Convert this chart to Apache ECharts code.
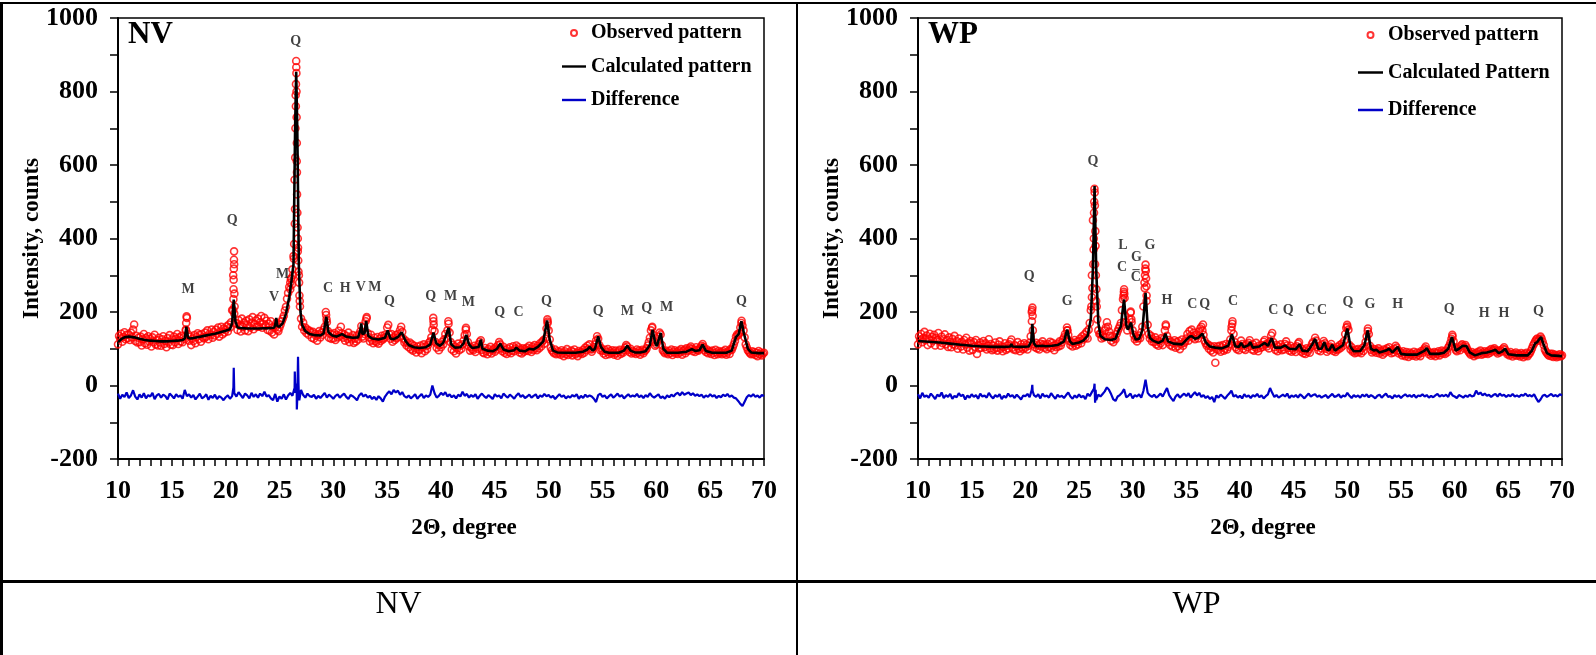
<!DOCTYPE html>
<html>
<head>
<meta charset="utf-8">
<script src="https://cdn.jsdelivr.net/npm/echarts@6/dist/echarts.min.js"></script>
<style>
  html, body { margin: 0; padding: 0; background: #fff; }
  #page { position: relative; width: 1596px; height: 655px; overflow: hidden;
          font-family: 'Liberation Serif', 'Times New Roman', serif; }
  .chart { position: absolute; top: 0; height: 580px; }
  #nv { left: 0; width: 797px; }
  #wp { left: 797px; width: 799px; }
  .rule { position: absolute; background: #000; }
  .caption { position: absolute; top: 582px; height: 40px; line-height: 40px;
             font-size: 32px; text-align: center; color: #000; }
</style>
</head>
<body>
<div id="page">
  <div id="nv" class="chart"></div>
  <div id="wp" class="chart"></div>
  <div class="rule" style="left:0;top:2px;width:1596px;height:2px"></div>
  <div class="rule" style="left:0;top:2px;width:3px;height:653px"></div>
  <div class="rule" style="left:796px;top:2px;width:2px;height:653px"></div>
  <div class="rule" style="left:0;top:580px;width:1596px;height:3px"></div>
  <div class="caption" style="left:0;width:797px">NV</div>
  <div class="caption" style="left:797px;width:799px">WP</div>
</div>
<script>
// ---------- NV sample ----------
// Calculated profile: [2θ, counts] knots
const nvCalc = [
  [10.0,118],[10.3,126],[10.6,131],[11.0,133],[11.5,131],[12.0,127],[12.5,124],[13.0,122],[13.5,121],[14.0,120],
  [14.5,120],[15.0,121],[15.5,122],[16.0,124],[16.2,128],[16.35,160],[16.5,130],[16.7,128],[17.0,129],[17.5,132],
  [18.0,135],[18.5,138],[19.0,141],[19.5,145],[20.0,149],[20.4,153],[20.6,170],[20.75,234],[20.9,175],[21.1,158],
  [21.5,156],[22.0,155],[23.0,155],[24.0,156],[24.5,157],[24.6,165],[24.7,184],[24.8,162],[25.0,160],[25.3,170],
  [25.6,195],[25.9,240],[26.1,282],[26.3,330],[26.45,700],[26.55,854],[26.65,700],[26.8,320],[26.95,200],[27.1,165],
  [27.4,148],[27.8,140],[28.3,137],[28.8,136],[29.1,142],[29.35,187],[29.55,145],[29.9,136],[30.3,133],[30.8,140],
  [31.2,133],[31.8,130],[32.3,131],[32.5,150],[32.6,169],[32.7,140],[32.9,142],[33.05,176],[33.25,135],[33.6,128],
  [34.2,125],[34.8,130],[35.05,150],[35.3,128],[35.6,126],[36.0,132],[36.35,145],[36.7,122],[37.0,110],[37.5,104],
  [38.0,102],[38.6,104],[39.0,112],[39.3,144],[39.55,115],[39.9,108],[40.2,116],[40.45,135],[40.7,157],[40.95,112],
  [41.3,103],[41.8,104],[42.1,115],[42.35,138],[42.6,112],[42.9,102],[43.5,105],[43.7,125],[43.85,100],[44.3,95],
  [44.8,93],[45.2,100],[45.5,114],[45.8,98],[46.3,93],[46.8,96],[47.0,103],[47.3,95],[47.8,93],[48.2,100],
  [48.6,98],[49.0,105],[49.5,120],[49.85,177],[50.1,125],[50.4,95],[50.8,90],[51.5,89],[52.5,89],[53.2,92],
  [53.6,98],[53.8,105],[54.1,95],[54.3,100],[54.6,134],[54.85,105],[55.2,92],[55.6,89],[56.5,89],[57.0,95],
  [57.3,108],[57.6,95],[58.0,90],[58.5,90],[59.0,93],[59.4,110],[59.65,152],[59.9,115],[60.05,107],[60.4,143],
  [60.65,100],[61.0,89],[62.0,89],[62.8,92],[63.3,99],[63.6,94],[64.0,96],[64.3,111],[64.6,94],[65.2,89],
  [66.5,89],[67.0,95],[67.4,132],[67.65,140],[67.9,175],[68.15,140],[68.5,100],[68.8,90],[69.5,88],[70.0,88]
];
// Observed counts, one row per degree, 0.1° steps from the row's start
const nvObsRows = [
  [112,135,128,141,119,132,145,126,138,129],
  [139,124,144,131,152,166,121,135,117,130],
  [118,133,109,126,140,115,129,111,134,120],
  [127,106,131,118,138,112,124,109,130,117],
  [108,126,134,113,121,104,129,117,137,111],
  [125,110,133,118,127,140,113,131,120,135],
  [118,131,126,152,184,140,122,133,110,127],
  [121,137,115,132,142,126,138,119,140,131],
  [128,144,133,150,126,141,137,152,130,146],
  [136,152,141,158,133,147,160,139,155,144],
  [152,161,147,166,158,172,205,300,196,169],
  [170,151,178,163,147,182,159,171,150,176],
  [165,148,180,158,171,186,153,167,177,160],
  [182,160,172,189,157,168,184,163,176,151],
  [168,149,175,144,160,139,158,170,152,148],
  [158,166,175,182,190,204,214,236,252,268],
  [280,292,316,352,560,790,610,365,300,215],
  [182,160,171,150,158,143,152,138,149,145],
  [130,146,127,141,135,122,139,148,131,144],
  [138,152,160,200,172,148,130,141,127,139],
  [128,143,124,137,131,149,135,160,142,130],
  [139,122,135,127,144,118,131,125,137,116],
  [128,120,136,125,139,147,162,133,128,140],
  [175,186,142,131,120,138,124,115,130,121],
  [118,132,114,127,121,135,125,129,138,133],
  [158,165,139,127,140,119,131,124,137,129],
  [140,133,151,160,146,128,117,122,109,115],
  [104,117,99,112,95,108,101,90,106,98],
  [96,109,88,104,112,93,107,99,110,117],
  [120,131,152,175,148,118,103,112,96,110],
  [104,119,112,126,140,128,150,168,144,118],
  [98,111,93,106,87,101,114,96,108,100],
  [112,122,137,152,140,118,106,95,104,99],
  [96,108,91,104,100,112,119,123,97,90],
  [88,102,94,85,99,91,105,87,96,100],
  [92,104,98,110,118,112,101,93,105,89],
  [97,86,100,92,104,88,95,107,93,101],
  [109,98,104,90,97,87,101,92,99,95],
  [103,94,108,99,91,105,97,110,102,96],
  [108,101,115,106,119,123,114,128,155,174],
  [150,125,103,96,92,88,98,85,93,87],
  [92,84,96,88,80,93,86,99,83,90],
  [87,95,82,91,98,85,89,80,94,88],
  [91,86,97,89,103,96,108,100,112,98],
  [92,99,104,112,122,134,127,110,96,101],
  [94,87,97,83,91,99,85,93,88,96],
  [90,84,95,88,81,93,97,86,92,89],
  [96,103,110,106,97,91,100,87,94,89],
  [92,86,98,89,95,84,91,97,88,94],
  [96,101,109,118,130,150,157,138,119,108],
  [112,120,133,144,139,110,96,92,88,95],
  [90,85,94,88,98,83,91,96,87,92],
  [86,95,90,99,84,93,97,88,101,94],
  [96,102,106,100,93,98,91,104,97,95],
  [99,103,108,113,105,96,91,98,88,94],
  [92,86,95,89,83,97,90,85,94,88],
  [91,85,93,88,97,84,90,94,86,99],
  [97,104,112,121,133,139,137,142,158,170],
  [163,150,131,112,104,96,92,88,85,93],
  [86,91,83,89,80,94,85,90,82,87],
  [89]
];
// Extra observed counts across the sharp reflections
const nvObsPeaks = [
  [16.31,150],[16.33,170],[16.37,188],
  [20.69,205],[20.72,235],[20.73,262],[20.74,288],[20.76,318],[20.77,342],[20.78,365],[20.79,330],[20.81,250],[20.83,215],
  [26.0,262],[26.05,290],[26.15,275],[26.25,300],[26.33,345],[26.36,385],[26.42,440],[26.44,480],[26.46,620],[26.48,700],
  [26.52,760],[26.53,820],[26.55,883],[26.56,866],[26.57,850],[26.58,800],[26.59,730],[26.61,660],[26.62,580],[26.63,520],
  [26.66,470],[26.68,430],[26.7,400],[26.72,375],[26.74,340],[26.76,310],[26.82,280],[26.85,245],[26.88,230],
  [29.33,192],[29.37,180],[33.08,182],[39.28,184],[39.32,165],[40.68,175],[42.32,157],[49.88,180],[49.9,170],
  [59.62,160],[67.92,176]
];
// Difference (observed − calculated, offset), one row per degree, 0.2° steps
const nvDiffRows = [
  [-22,-36,-25,-31,-19],[-34,-27,-13,-30,-38],[-24,-33,-21,-35,-26],[-30,-20,-37,-27,-23],[-33,-25,-29,-38,-22],
  [-28,-35,-24,-31,-27],[-36,-12,-29,-24,-33],[-26,-38,-30,-22,-35],[-31,-24,-39,-28,-34],[-25,-37,-29,-33,-40],
  [-32,-27,-36,-29,-21],[-30,-18,-26,-34,-22],[-27,-35,-20,-31,-24],[-33,-22,-29,-17,-30],[-26,-35,-40,-23,-44],
  [-30,-36,-24,-38,-27],[-20,-28,-15,-22,-30],[-12,-26,-33,-22,-29],[-31,-25,-36,-28,-34],[-27,-20,-33,-25,-30],
  [-36,-28,-24,-33,-27],[-22,-31,-37,-26,-29],[-34,-40,-27,-21,-30],[-25,-33,-28,-37,-31],[-39,-29,-35,-44,-30],
  [-22,-16,-24,-12,-19],[-14,-25,-18,-29,-33],[-27,-35,-30,-24,-36],[-29,-23,-34,-27,-31],[-25,0,-21,-33,-28],
  [-20,-26,-18,-30,-24],[-32,-27,-35,-25,-30],[-17,-28,-23,-33,-26],[-31,-24,-36,-28,-22],[-29,-34,-26,-31,-37],
  [-24,-30,-27,-35,-22],[-28,-33,-25,-30,-36],[-27,-21,-31,-26,-34],[-30,-25,-33,-28,-24],[-35,-27,-31,-23,-29],
  [-26,-33,-28,-37,-30],[-24,-31,-27,-35,-29],[-33,-26,-30,-24,-36],[-28,-34,-25,-31,-27],[-30,-36,-45,-26,-22],
  [-31,-27,-35,-29,-24],[-33,-28,-22,-30,-26],[-35,-29,-24,-31,-27],[-30,-23,-32,-27,-34],[-26,-31,-21,-29,-33],
  [-28,-24,-34,-30,-36],[-27,-32,-25,-30,-23],[-20,-27,-18,-25,-22],[-19,-26,-21,-28,-24],[-29,-25,-33,-27,-31],
  [-24,-30,-26,-34,-28],[-32,-25,-29,-23,-31],[-27,-33,-35,-42,-50],[-56,-44,-32,-26,-30],[-24,-31,-27,-33,-26],
  [-29]
];
const nvDiffPeaks = [
  [20.72,-5],[20.75,48],[20.78,8],
  [26.38,-8],[26.42,38],[26.47,-20],[26.52,5],[26.61,-65],[26.66,-30],[26.72,78],[26.77,0],[26.84,-40]
];
// Phase marks: [2θ, counts, phase]
const nvPhaseLabels = [
  [16.5,261,'M'],[20.6,448,'Q'],[24.5,239,'V'],[25.3,302,'M'],[26.5,937,'Q'],
  [29.5,264,'C'],[31.1,264,'H'],[32.55,266,'V'],[33.85,266,'M'],[35.2,228,'Q'],
  [39.05,242,'Q'],[40.9,242,'M'],[42.55,226,'M'],[45.45,198,'Q'],[47.2,198,'C'],
  [49.8,228,'Q'],[54.6,201,'Q'],[57.3,201,'M'],[59.1,209,'Q'],[60.95,212,'M'],[67.9,228,'Q']
];

// ---------- WP sample ----------
const wpCalc = [
  [10.0,121],[11.0,119],[12.0,117],[13.0,114],[14.0,111],[15.0,108],[15.9,106],[16.05,110],[16.2,106],[17.0,105],
  [18.0,105],[18.6,106],[18.7,113],[18.8,106],[19.5,105],[20.3,106],[20.55,120],[20.65,168],[20.8,115],[21.0,107],
  [21.6,108],[21.75,113],[21.9,107],[22.5,108],[23.0,110],[23.6,120],[23.9,152],[24.15,120],[24.4,113],[25.0,117],
  [25.4,122],[25.8,135],[26.1,180],[26.3,320],[26.45,543],[26.6,320],[26.8,170],[27.0,135],[27.4,126],[28.0,124],
  [28.4,127],[28.7,150],[28.9,160],[29.05,200],[29.2,234],[29.4,165],[29.55,152],[29.7,162],[29.85,171],[30.05,140],
  [30.3,125],[30.6,127],[30.9,150],[31.05,200],[31.2,252],[31.4,160],[31.6,130],[31.9,122],[32.4,116],[32.8,122],
  [33.05,141],[33.3,120],[33.8,114],[34.6,112],[35.0,124],[35.3,133],[35.5,134],[35.8,127],[36.1,130],[36.5,141],
  [36.8,118],[37.2,106],[37.7,103],[38.3,101],[38.9,108],[39.25,139],[39.55,107],[39.9,105],[40.1,116],[40.35,104],
  [40.8,110],[40.95,118],[41.2,103],[41.8,106],[42.3,116],[42.6,108],[42.95,129],[43.25,103],[43.8,103],[44.2,109],
  [44.35,112],[44.6,100],[45.2,99],[45.55,112],[45.8,95],[46.3,93],[46.7,110],[47.0,127],[47.3,100],[47.6,100],
  [47.85,118],[48.1,98],[48.3,96],[48.6,111],[48.85,95],[49.2,102],[49.6,110],[50.0,155],[50.3,105],[50.6,93],
  [51.2,94],[51.6,110],[51.9,150],[52.2,100],[52.5,95],[52.7,97],[53.0,90],[53.6,95],[53.9,100],[54.2,90],
  [54.7,105],[55.0,86],[55.5,84],[56.5,84],[57.2,95],[57.4,102],[57.7,86],[58.5,86],[59.0,89],[59.4,100],
  [59.75,132],[60.1,95],[60.4,100],[60.75,108],[61.1,107],[61.4,90],[61.9,82],[62.5,88],[63.0,90],[63.5,94],
  [63.8,97],[64.1,88],[64.4,92],[64.7,100],[65.0,85],[65.8,82],[66.8,82],[67.2,95],[67.5,115],[67.7,118],
  [67.85,125],[68.05,132],[68.3,110],[68.6,88],[69.0,82],[70.0,80]
];
const wpObsRows = [
  [112,134,125,140,118,129,146,123,136,110],
  [127,141,115,132,122,138,109,130,124,143],
  [120,108,133,115,126,139,112,124,105,131],
  [118,104,127,112,135,109,121,100,128,116],
  [106,119,98,124,112,130,103,116,95,121],
  [113,97,118,105,124,86,110,101,117,103],
  [112,121,104,115,98,109,126,101,113,96],
  [108,99,117,103,95,111,120,100,106,93],
  [104,115,97,109,101,112,119,125,103,98],
  [110,96,107,118,100,93,112,104,99,115],
  [103,111,98,108,116,134,200,150,112,104],
  [116,101,109,98,114,106,120,112,103,110],
  [99,113,105,119,102,116,108,96,111,104],
  [114,106,120,109,117,125,131,140,128,150],
  [138,121,110,118,106,115,124,108,119,112],
  [121,128,115,134,125,139,130,146,128,152],
  [170,205,300,450,470,330,230,180,150,140],
  [140,128,137,131,150,158,172,160,147,135],
  [122,134,118,129,126,140,148,155,162,170],
  [205,235,262,190,172,150,164,180,198,172],
  [150,138,126,131,120,128,136,129,145,160],
  [215,280,329,230,165,140,128,135,120,126],
  [118,131,112,124,108,120,115,129,110,127],
  [150,162,135,118,124,110,119,106,115,123],
  [103,118,107,121,99,113,125,108,116,120],
  [128,140,122,148,135,152,130,144,126,138],
  [134,128,147,155,160,150,138,122,115,108],
  [112,100,108,95,104,90,107,62,99,106],
  [97,108,92,104,110,95,100,113,98,105],
  [112,125,150,175,140,118,104,99,110,96],
  [109,122,113,100,108,97,112,104,116,123],
  [108,98,112,95,104,116,100,93,109,102],
  [110,105,119,124,112,106,114,101,120,136],
  [143,118,104,97,110,93,106,100,112,96],
  [104,98,113,120,109,102,95,108,92,101],
  [96,104,91,107,114,118,103,92,99,88],
  [95,86,101,92,98,89,104,113,118,109],
  [130,122,104,96,108,93,101,112,121,115],
  [100,92,104,97,106,113,103,94,99,91],
  [97,105,99,110,103,114,108,121,140,157],
  [160,152,110,98,104,92,95,88,97,90],
  [99,91,96,88,102,94,107,118,134,148],
  [140,108,97,90,100,93,98,89,95,101],
  [87,95,91,84,98,89,96,101,93,104],
  [94,88,97,90,100,108,103,96,87,92],
  [89,82,93,86,80,91,85,78,90,84],
  [87,81,92,85,79,90,83,88,80,94],
  [89,96,101,106,98,92,85,90,81,88],
  [84,91,80,89,86,93,82,88,95,87],
  [92,86,95,90,103,108,116,127,133,120],
  [104,97,93,100,104,96,109,112,106,101],
  [110,104,97,92,88,84,91,86,80,85],
  [89,83,92,87,95,84,90,86,93,88],
  [91,86,95,89,99,93,97,101,96,92],
  [87,95,90,96,93,100,104,98,91,85],
  [88,82,91,85,79,87,83,90,81,86],
  [84,79,88,83,77,86,81,89,80,85],
  [88,94,101,109,114,120,125,128,122,127],
  [133,128,119,110,98,92,88,84,81,86],
  [80,86,78,84,81,77,83,79,85,80],
  [82]
];
const wpObsPeaks = [
  [20.61,175],[20.63,205],[20.66,212],[20.68,190],[23.88,158],[23.92,150],
  [26.15,215],[26.2,240],[26.25,265],[26.33,330],[26.36,370],[26.38,400],[26.42,500],[26.44,535],[26.46,525],
  [26.48,490],[26.52,420],[26.54,380],[26.57,300],[26.62,262],[26.65,215],
  [29.15,245],[29.18,255],[29.22,250],[29.25,238],[29.82,201],[29.88,180],
  [31.12,265],[31.15,300],[31.18,318],[31.22,312],[31.25,292],[31.28,270],[31.3,245],
  [33.08,166],[36.55,166],[39.22,160],[39.28,168],[49.98,165],[51.92,155],[59.78,138]
];
const wpDiffRows = [
  [-24,-35,-20,-31,-27],[-33,-22,-29,-37,-25],[-30,-19,-34,-26,-31],[-23,-36,-28,-32,-21],[-29,-25,-38,-27,-33],
  [-24,-31,-26,-36,-22],[-30,-27,-33,-20,-29],[-35,-26,-31,-24,-37],[-28,-33,-22,-30,-26],[-34,-25,-31,-38,-27],
  [-29,-23,-32,-12,-26],[-31,-24,-35,-22,-30],[-27,-33,-21,-29,-36],[-25,-31,-28,-34,-26],[-19,-30,-36,-27,-33],
  [-24,-32,-28,-37,-22],[-29,-18,-8,-40,-25],[-30,-23,-16,-5,-12],[-24,-38,-42,-30,-26],[-20,-10,-32,-28,-22],
  [-35,-26,-30,-24,-33],[-15,16,-20,-27,-31],[-25,-33,-28,-22,-30],[-18,-7,-26,-35,-42],[-30,-24,-33,-27,-22],
  [-29,-21,-33,-25,-18],[-27,-20,-31,-26,-34],[-29,-37,-31,-45,-27],[-33,-25,-30,-36,-28],[-22,-14,-30,-26,-33],
  [-28,-35,-24,-31,-27],[-34,-26,-30,-23,-32],[-27,-35,-29,-24,-7],[-20,-31,-26,-33,-29],[-25,-30,-22,-34,-27],
  [-31,-26,-33,-24,-29],[-35,-28,-22,-30,-26],[-24,-31,-27,-33,-29],[-26,-34,-28,-23,-31],[-29,-24,-33,-27,-30],
  [-20,-28,-34,-26,-31],[-27,-33,-25,-30,-24],[-32,-26,-30,-35,-28],[-25,-33,-27,-22,-31],[-29,-35,-26,-31,-27],
  [-34,-28,-24,-30,-26],[-31,-25,-33,-27,-29],[-24,-30,-26,-33,-28],[-32,-27,-23,-30,-26],[-29,-25,-31,-18,-27],
  [-30,-34,-26,-29,-33],[-27,-31,-25,-30,-28],[-14,-24,-19,-27,-22],[-28,-25,-31,-26,-23],[-30,-22,-28,-25,-31],
  [-26,-29,-23,-30,-27],[-31,-25,-28,-22,-29],[-26,-30,-24,-35,-45],[-38,-28,-25,-31,-27],[-23,-29,-26,-30,-24],
  [-27]
];
const wpDiffPeaks = [
  [20.62,-8],[20.65,2],[20.68,-15],[26.4,-6],[26.45,5],[26.5,-47],[26.55,-12]
];
const wpPhaseLabels = [
  [20.35,296,'Q'],[23.9,228,'G'],[26.3,609,'Q'],[29.1,380,'L'],[29.0,321,'C'],
  [30.35,348,'G'],[30.3,317,'–'],[30.3,293,'C'],[31.6,380,'G'],[33.2,231,'H'],
  [35.55,220,'C'],[36.7,220,'Q'],[39.35,228,'C'],[43.1,204,'C'],[44.5,204,'Q'],
  [46.55,204,'C'],[47.65,204,'C'],[50.05,226,'Q'],[52.1,220,'G'],[54.7,220,'H'],
  [59.5,207,'Q'],[62.75,196,'H'],[64.6,196,'H'],[67.8,201,'Q']
];

// Axis ticks
const xTickLabels = [10, 15, 20, 25, 30, 35, 40, 45, 50, 55, 60, 65, 70];
const yTickLabels = [-200, 0, 200, 400, 600, 800, 1000];

// ---------- helpers ----------
const FONT = 'Liberation Serif';
const LINE_ICON = 'path://M0,0H30V3H0Z';

// Expand per-degree rows into [2θ, value] pairs and merge extra points
function rowsToPairs(rows, step, extras) {
  const pts = [];
  rows.forEach((row, r) => {
    row.forEach((v, j) => pts.push([+(10 + r + j * step).toFixed(2), v]));
  });
  return pts.concat(extras).sort((a, b) => a[0] - b[0]);
}

function buildOption(cfg) {
  return {
    animation: false,
    title: {
      text: cfg.tag, left: cfg.tagLeft, top: 19, padding: 0,
      textStyle: { fontFamily: FONT, fontWeight: 'bold', fontSize: 31, color: '#000' }
    },
    legend: {
      orient: 'vertical', left: cfg.legendLeft, top: cfg.legendTop, padding: 0,
      itemWidth: cfg.iconWidth, itemHeight: 6, itemGap: cfg.legendGap,
      selectedMode: false,
      data: [
        { name: 'Observed pattern', icon: 'circle' },
        { name: cfg.calcName, icon: LINE_ICON },
        { name: 'Difference', icon: LINE_ICON }
      ],
      textStyle: { fontFamily: FONT, fontWeight: 'bold', fontSize: 20, lineHeight: 20, color: '#000' }
    },
    grid: {
      left: cfg.gridLeft, top: 18, width: cfg.gridWidth, height: 441,
      show: true, borderColor: '#000', borderWidth: 1.5, backgroundColor: 'transparent'
    },
    xAxis: {
      type: 'value', min: 10, max: 70, interval: 1,
      name: '2Θ, degree', nameLocation: 'middle', nameGap: 58,
      nameTextStyle: { fontFamily: FONT, fontWeight: 'bold', fontSize: 23, color: '#000', padding: [0, 0, 0, 46] },
      axisLine: { onZero: false, lineStyle: { color: '#000', width: 2 } },
      axisTick: { inside: false, length: 7, lineStyle: { color: '#000', width: 1.5 } },
      axisLabel: {
        interval: 0, margin: 19, fontFamily: FONT, fontWeight: 'bold', fontSize: 26, color: '#000',
        formatter: v => (xTickLabels.includes(v) ? String(v) : '')
      },
      splitLine: { show: false }
    },
    yAxis: {
      type: 'value', min: -200, max: 1000, interval: 100,
      name: 'Intensity, counts', nameLocation: 'middle', nameGap: 74, nameMoveOverlap: false,
      nameTextStyle: { fontFamily: FONT, fontWeight: 'bold', fontSize: 23, color: '#000' },
      axisLine: { onZero: false, lineStyle: { color: '#000', width: 2 } },
      axisTick: { inside: false, length: 8, lineStyle: { color: '#000', width: 1.5 } },
      axisLabel: {
        interval: 0, margin: 20, fontFamily: FONT, fontWeight: 'bold', fontSize: 26, color: '#000',
        formatter: v => (yTickLabels.includes(v) ? String(v) : '')
      },
      splitLine: { show: false }
    },
    series: [
      {
        name: 'Observed pattern', type: 'scatter', data: cfg.obs,
        symbol: 'circle', symbolSize: 7, silent: true, z: 2,
        itemStyle: { color: 'rgba(255,0,0,0)', borderColor: '#ff0000', borderWidth: 1.6 }
      },
      {
        name: cfg.calcName, type: 'line', data: cfg.calc,
        symbol: 'none', showSymbol: false, silent: true, z: 3,
        lineStyle: { color: '#000', width: 2.6 }, itemStyle: { color: '#000' }
      },
      {
        name: 'Difference', type: 'line', data: cfg.diff,
        symbol: 'none', showSymbol: false, silent: true, z: 3,
        lineStyle: { color: '#0000c8', width: 2.2 }, itemStyle: { color: '#0000c8' }
      },
      {
        name: 'phases', type: 'scatter', data: cfg.labels,
        symbolSize: 1, silent: true, z: 4,
        itemStyle: { color: 'rgba(0,0,0,0)' },
        label: {
          show: true, position: 'inside', formatter: p => p.data[2],
          fontFamily: FONT, fontWeight: 'bold', fontSize: 14, color: '#111'
        }
      }
    ]
  };
}

const nvChart = echarts.init(document.getElementById('nv'), null, { renderer: 'canvas' });
nvChart.setOption(buildOption({
  tag: 'NV', tagLeft: 128, gridLeft: 118, gridWidth: 646,
  legendLeft: 562, legendTop: 23, legendGap: 13.5, iconWidth: 24,
  calcName: 'Calculated pattern',
  calc: nvCalc,
  obs: rowsToPairs(nvObsRows, 0.1, nvObsPeaks),
  diff: rowsToPairs(nvDiffRows, 0.2, nvDiffPeaks),
  labels: nvPhaseLabels
}));

const wpChart = echarts.init(document.getElementById('wp'), null, { renderer: 'canvas' });
wpChart.setOption(buildOption({
  tag: 'WP', tagLeft: 131, gridLeft: 121, gridWidth: 644,
  legendLeft: 561, legendTop: 25, legendGap: 17.5, iconWidth: 25,
  calcName: 'Calculated Pattern',
  calc: wpCalc,
  obs: rowsToPairs(wpObsRows, 0.1, wpObsPeaks),
  diff: rowsToPairs(wpDiffRows, 0.2, wpDiffPeaks),
  labels: wpPhaseLabels
}));
</script>
</body>
</html>
